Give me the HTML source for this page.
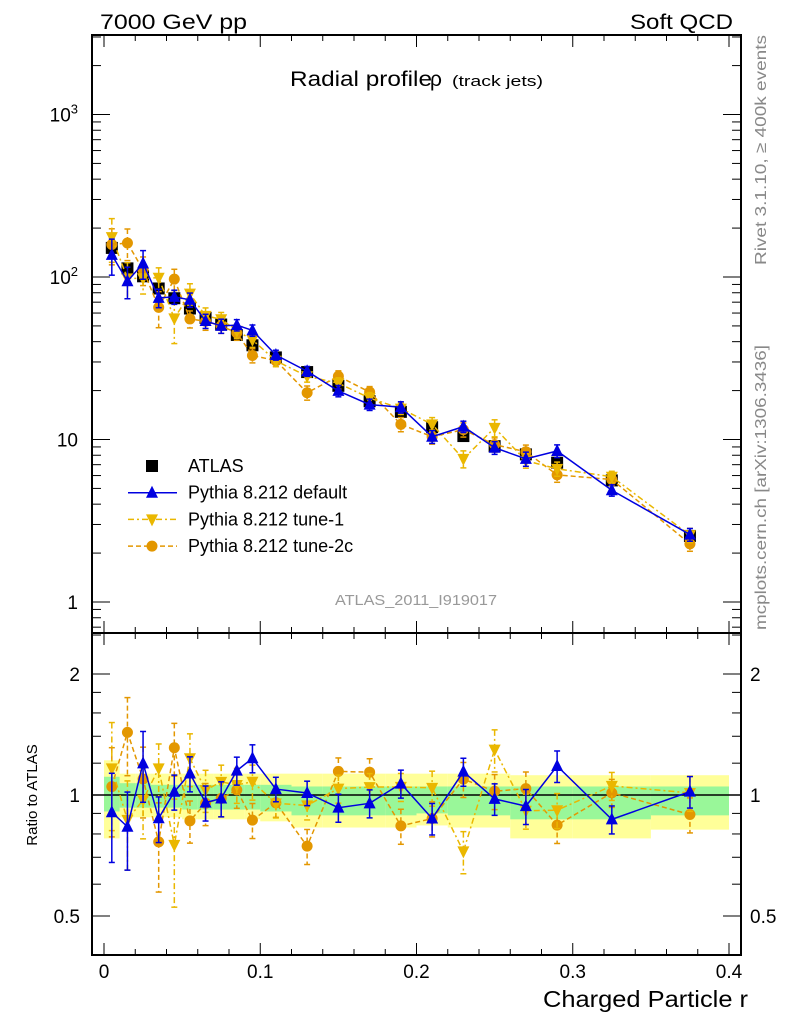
<!DOCTYPE html>
<html><head><meta charset="utf-8"><style>
html,body{margin:0;padding:0;background:#fff;}
svg{display:block;font-family:"Liberation Sans",sans-serif;}
</style></head><body>
<svg id="chart" width="786" height="1024" viewBox="0 0 786 1024">
<g id="bands"></g>
<g id="axes"></g>
<g id="series"></g>
<text x="100" y="29" font-size="21" textLength="147" lengthAdjust="spacingAndGlyphs">7000 GeV pp</text>
<text x="630" y="29" font-size="21" textLength="103" lengthAdjust="spacingAndGlyphs">Soft QCD</text>
<text x="290" y="86" font-size="21"><tspan textLength="142" lengthAdjust="spacingAndGlyphs">Radial profile</tspan><tspan x="430" textLength="14">ρ</tspan><tspan x="452" font-size="15" textLength="91" lengthAdjust="spacingAndGlyphs">(track jets)</tspan></text>
<text x="335" y="605" font-size="15" fill="#999" textLength="162" lengthAdjust="spacingAndGlyphs">ATLAS_2011_I919017</text>
<text transform="translate(766,265) rotate(-90)" font-size="16" fill="#888" textLength="230" lengthAdjust="spacingAndGlyphs">Rivet 3.1.10, ≥ 400k events</text>
<text transform="translate(766,630) rotate(-90)" font-size="16" fill="#888" textLength="285" lengthAdjust="spacingAndGlyphs">mcplots.cern.ch [arXiv:1306.3436]</text>
<text x="543" y="1007" font-size="23" textLength="205" lengthAdjust="spacingAndGlyphs">Charged Particle r</text>
<text transform="translate(37,795) rotate(-90)" font-size="15" text-anchor="middle">Ratio to ATLAS</text>
<g id="legend"></g>
</svg>
<script>
const xCenters=[0.005,0.015,0.025,0.035,0.045,0.055,0.065,0.075,0.085,0.095,0.11,0.13,0.15,0.17,0.19,0.21,0.23,0.25,0.27,0.29,0.325,0.375];
const xLow=[0,0.01,0.02,0.03,0.04,0.05,0.06,0.07,0.08,0.09,0.1,0.12,0.14,0.16,0.18,0.2,0.22,0.24,0.26,0.28,0.3,0.35];
const xHigh=[0.01,0.02,0.03,0.04,0.05,0.06,0.07,0.08,0.09,0.1,0.12,0.14,0.16,0.18,0.2,0.22,0.24,0.26,0.28,0.3,0.35,0.4];
const atlas=[151,113,101,85,74,64,56,51,44,38,32,26,21.4,17.2,14.8,11.9,10.5,9.1,8.1,7.2,5.6,2.55];
const totUp=[1.22,1.13,1.13,1.13,1.13,1.13,1.13,1.13,1.13,1.13,1.13,1.13,1.13,1.13,1.13,1.13,1.13,1.13,1.12,1.12,1.12,1.12];
const totDn=[0.78,0.88,0.88,0.88,0.88,0.87,0.87,0.87,0.87,0.87,0.86,0.83,0.83,0.83,0.83,0.84,0.83,0.83,0.78,0.78,0.78,0.82];
const statUp=[1.11,1.07,1.07,1.06,1.06,1.06,1.06,1.06,1.06,1.06,1.06,1.05,1.05,1.05,1.05,1.05,1.05,1.05,1.05,1.05,1.05,1.05];
const statDn=[0.91,0.93,0.93,0.93,0.93,0.92,0.92,0.92,0.92,0.92,0.91,0.89,0.89,0.89,0.89,0.9,0.89,0.89,0.87,0.87,0.87,0.89];
const pDefault=[136.8,94.2,121.1,74.4,75.4,72.4,53.6,50.0,50.6,46.9,33.1,26.3,19.9,16.4,15.8,10.4,12.0,8.9,7.6,8.5,4.87,2.6];
const pTune1=[175.9,98.0,98.2,99.0,55.6,79.0,57.6,55.0,46.6,41.0,30.5,24.5,22.2,18.0,15.5,12.4,7.6,11.8,7.4,6.6,5.9,2.58];
const pTune2c=[158.4,161.8,110.7,65.0,97.0,55.2,53.4,50.0,45.3,32.9,30.6,19.4,24.5,19.6,12.4,10.4,11.5,9.3,8.4,6.06,5.67,2.28];
const eDefault=[0.25,0.22,0.2,0.13,0.1,0.1,0.1,0.1,0.08,0.08,0.07,0.07,0.08,0.08,0.08,0.09,0.08,0.09,0.1,0.09,0.08,0.09];
const eTune1=[0.3,0.25,0.2,0.15,0.3,0.15,0.12,0.1,0.1,0.1,0.08,0.08,0.08,0.08,0.08,0.1,0.12,0.12,0.1,0.1,0.08,0.1];
const eTune2c=[0.25,0.22,0.2,0.25,0.15,0.12,0.12,0.1,0.1,0.1,0.08,0.1,0.08,0.08,0.1,0.1,0.1,0.1,0.1,0.1,0.08,0.1];
const xTicks=[0,0.1,0.2,0.3,0.4];
const xTickLabels=["0","0.1","0.2","0.3","0.4"];
const ratioTicks=[0.5,1,2];
const ratioTickLabels=["0.5","1","2"];

const NS="http://www.w3.org/2000/svg";
const L=92,R=741,T=35,MB=633,RB=955;
const X=v=>104+v*1562.5;
const Y=v=>602-Math.log10(v)*162.5;
const YR=v=>795-Math.log10(v)*402;
function mk(tag,attrs,parent){const e=document.createElementNS(NS,tag);for(const k in attrs)e.setAttribute(k,attrs[k]);parent.appendChild(e);return e;}
const bands=document.getElementById('bands'),axes=document.getElementById('axes'),series=document.getElementById('series'),legend=document.getElementById('legend');

for(let i=0;i<xCenters.length;i++){
  let r=mk('rect',{x:X(xLow[i]),y:YR(totUp[i]),width:X(xHigh[i])-X(xLow[i]),height:YR(totDn[i])-YR(totUp[i]),fill:'#ffff99'},bands);
  
  
}
for(let i=0;i<xCenters.length;i++){
  let r=mk('rect',{x:X(xLow[i]),y:YR(statUp[i]),width:X(xHigh[i])-X(xLow[i]),height:YR(statDn[i])-YR(statUp[i]),fill:'#99f799'},bands);
  
  
}
let f1=mk('rect',{x:L,y:T,width:R-L,height:MB-T,fill:'none',stroke:'#000','stroke-width':2},axes);


let f2=mk('rect',{x:L,y:MB,width:R-L,height:RB-MB,fill:'none',stroke:'#000','stroke-width':2},axes);


let one=mk('line',{x1:L,x2:R,y1:YR(1),y2:YR(1),stroke:'#000','stroke-width':1.5},axes);


for(let v=0;v<=0.4001;v+=0.02){
  const major=Math.abs(v*10-Math.round(v*10))<1e-6;const len=major?12:6;const x=X(v);
  for(const [y0,d] of [[T,1],[MB,-1],[MB,1],[RB,-1]]) mk('line',{x1:x,x2:x,y1:y0,y2:y0+d*len,stroke:'#000','stroke-width':1},axes);
}
xTicks.forEach((v,i)=>{let t=mk('text',{x:X(v),y:978,'font-size':19,'text-anchor':'middle'},axes);t.textContent=xTickLabels[i];

});
for(let d=-1;d<=3;d++){for(let m=1;m<=9;m++){const v=m*Math.pow(10,d);const y=Y(v);if(y<T||y>MB)continue;const len=m==1?18:9;
 mk('line',{x1:L,x2:L+len,y1:y,y2:y,stroke:'#000'},axes);mk('line',{x1:R,x2:R-len,y1:y,y2:y,stroke:'#000'},axes);}}
[[3,'10','3'],[2,'10','2'],[1,'10',''],[0,'1','']].forEach(a=>{let t=mk('text',{x:78,y:Y(Math.pow(10,a[0]))+7,'font-size':19,'text-anchor':'end'},axes);t.textContent=a[1];
 if(a[2]){let s=mk('tspan',{dy:-8,'font-size':13},t);s.textContent=a[2];}
 
 });
[0.4,0.5,0.6,0.7,0.8,0.9,1,1.2,1.4,1.6,1.8,2,2.5].forEach(v=>{const y=YR(v);if(y<MB||y>RB)return;const len=(v==0.5||v==1||v==2)?18:9;
 mk('line',{x1:L,x2:L+len,y1:y,y2:y,stroke:'#000'},axes);mk('line',{x1:R,x2:R-len,y1:y,y2:y,stroke:'#000'},axes);});
ratioTicks.forEach((v,i)=>{for(const [x,a] of [[80,'end'],[750,'start']]){let t=mk('text',{x:x,y:YR(v)+7,'font-size':19,'text-anchor':a},axes);t.textContent=ratioTickLabels[i];
 
 }});

function marker(kind,x,y,col,g){
  if(kind=='sq')return mk('rect',{x:x-6,y:y-6,width:12,height:12,fill:'#000'},g);
  if(kind=='up')return mk('polygon',{points:`${x},${y-7} ${x-6},${y+5} ${x+6},${y+5}`,fill:col},g);
  if(kind=='dn')return mk('polygon',{points:`${x},${y+7} ${x-6},${y-5} ${x+6},${y-5}`,fill:col},g);
  return mk('circle',{cx:x,cy:y,r:5.5,fill:col},g);
}
function drawModel(vals,errs,col,dash,kind,name){
  const g=mk('g',{},series);
  
  
  const pm=vals.map((v,i)=>X(xCenters[i])+','+Y(v)).join(' ');
  const pr=vals.map((v,i)=>X(xCenters[i])+','+YR(v/atlas[i])).join(' ');
  const da=dash?{'stroke-dasharray':dash}:{};
  mk('polyline',Object.assign({points:pm,fill:'none',stroke:col,'stroke-width':1.5},da),g);
  mk('polyline',Object.assign({points:pr,fill:'none',stroke:col,'stroke-width':1.5},da),g);
  vals.forEach((v,i)=>{const x=X(xCenters[i]);
    for(const [fy,val] of [[Y,v],[YR,v/atlas[i]]]){
      const y1=fy(val*(1+errs[i])),y2=fy(val*(1-errs[i]));
      mk('line',Object.assign({x1:x,x2:x,y1:y1,y2:y2,stroke:col,'stroke-width':1.5},da),g);
      mk('line',{x1:x-3,x2:x+3,y1:y1,y2:y1,stroke:col,'stroke-width':1.5},g);
      mk('line',{x1:x-3,x2:x+3,y1:y2,y2:y2,stroke:col,'stroke-width':1.5},g);
      marker(kind,x,fy(val),col,g);
    }});
}
const ga=mk('g',{},series);


atlas.forEach((v,i)=>{marker('sq',X(xCenters[i]),Y(v),'#000',ga);});
drawModel(pTune2c,eTune2c,'#e39700','5,3','ci','series-tune-2c');
drawModel(pTune1,eTune1,'#eab700','6,3,2,3','dn','series-tune-1');
drawModel(pDefault,eDefault,'#0000e0',null,'up','series-default');

const rows=[['ATLAS','sq','#000',null],['Pythia 8.212 default','up','#0000e0',null],['Pythia 8.212 tune-1','dn','#eab700','6,3,2,3'],['Pythia 8.212 tune-2c','ci','#e39700','5,3']];
rows.forEach((r,i)=>{const y=466+i*26.7;const g=mk('g',{},legend);
  
  
  if(i>0)mk('line',Object.assign({x1:128,x2:177,y1:y,y2:y,stroke:r[2],'stroke-width':1.5},r[3]?{'stroke-dasharray':r[3]}:{}),g);
  marker(r[1],152,y,r[2],g);
  const t=mk('text',{x:188,y:y+6,'font-size':18},g);t.textContent=r[0];});
</script>
</body></html>
